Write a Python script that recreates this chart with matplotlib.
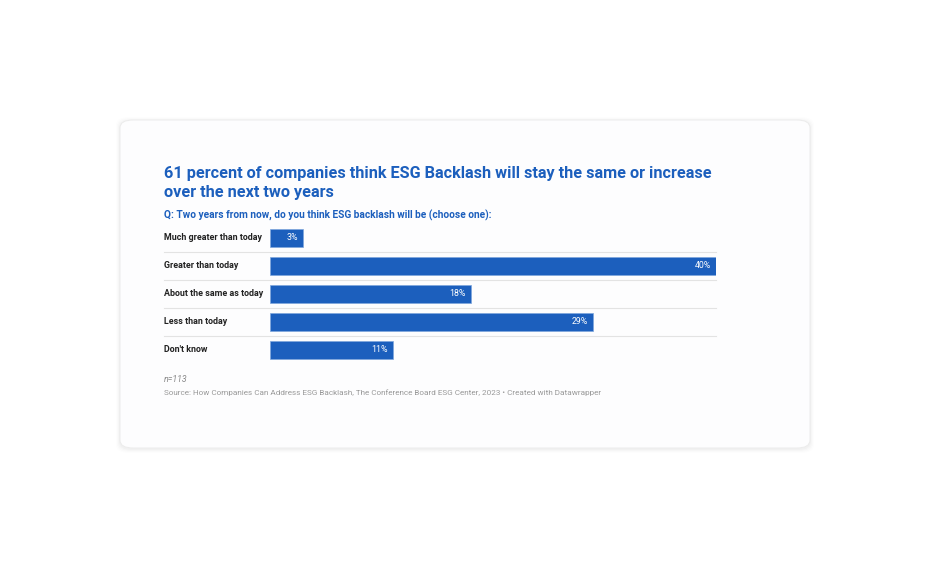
import matplotlib.pyplot as plt
from matplotlib.patches import FancyBboxPatch
import matplotlib.transforms as mtransforms

categories = ["Much greater than today", "Greater than today", "About the same as today",
              "Less than today", "Don't know"]
values = [3, 40, 18, 29, 11]
value_labels = ["3%", "40%", "18%", "29%", "11%"]

title = "61 percent of companies think ESG Backlash will stay the same or increase\nover the next two years"
subtitle = "Q: Two years from now, do you think ESG backlash will be (choose one):"
note = "n=113"
source = "Source: How Companies Can Address ESG Backlash, The Conference Board ESG Center, 2023 \u2022 Created with Datawrapper"

plt.rcParams['font.family'] = ['Roboto', 'DejaVu Sans']

W, H = 930, 568
fig = plt.figure(figsize=(W / 100, H / 100), dpi=100)
fig.patch.set_facecolor('white')

def fx(px):
    return px / W

def fy(py):
    return 1 - py / H

blue = '#1c5fbd'

# card with soft shadow
for i, a in enumerate([0.02, 0.015, 0.01, 0.008]):
    d = 1 + i
    sh = FancyBboxPatch((fx(120 - d), fy(448 + d + 1)), fx(690 + 2 * d), (328 + 2 * d) / H,
                        boxstyle="round,pad=0,rounding_size=0.014", transform=fig.transFigure,
                        facecolor='black', edgecolor='none', alpha=a, zorder=0)
    fig.patches.append(sh)
card = FancyBboxPatch((fx(120), fy(448)), fx(690), 328 / H,
                      boxstyle="round,pad=0,rounding_size=0.014", transform=fig.transFigure,
                      facecolor='#fdfdfe', edgecolor='#ececec', linewidth=0.7, zorder=1)
fig.patches.append(card)

# bar axes
ax = fig.add_axes([fx(270), fy(364), fx(716) - fx(270), 140 / H])
ax.set_zorder(2)
ax.patch.set_alpha(0)
ypos = list(range(len(categories)))
ax.barh(ypos, values, height=0.66, color=blue, edgecolor='#7ea6dc', linewidth=0.5)
ax.set_xlim(0, 40)
ax.set_ylim(len(categories) - 0.5, -0.5)
ax.axis('off')

for y, v, lab, cat in zip(ypos, values, value_labels, categories):
    ax.text(v - 0.45, y, lab, color='white', fontsize=6.3, ha='right', va='center')
    ax.text(-9.5, y, cat, color='#222222', fontsize=6.4, fontweight='bold', ha='left', va='center')

# separators
trans = mtransforms.blended_transform_factory(fig.transFigure, ax.transData)
for y in [0.5, 1.5, 2.5, 3.5]:
    ax.plot([fx(164), fx(716)], [y, y], transform=trans, color='#e3e3e3', linewidth=0.8,
            clip_on=False, zorder=0)

fig.text(fx(164), fy(166), title, color=blue, fontsize=11.7, fontweight='bold',
         ha='left', va='top', linespacing=1.3)
fig.text(fx(164), fy(215), subtitle, color=blue, fontsize=7.3, fontweight='bold',
         ha='left', va='center')
fig.text(fx(164), fy(380), note, color='#888888', fontsize=6.3, style='italic',
         ha='left', va='center')
fig.text(fx(164), fy(393), source, color='#999999', fontsize=5.85, ha='left', va='center')

fig.savefig('out.png', dpi=100, facecolor='white')
